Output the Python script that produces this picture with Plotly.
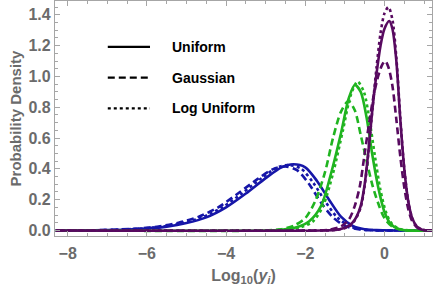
import plotly.graph_objects as go

# ---- data ----
blue_uniform_x = [-8.3, -7.0, -6.5, -6.0, -5.5, -5.0, -4.5, -4.0, -3.5, -3.0, -2.6, -2.3, -2.0, -1.7, -1.4, -1.1, -0.8, -0.5, -0.2, 0.3, 1.2]
blue_uniform_y = [0, 0.002, 0.006, 0.013, 0.025, 0.048, 0.085, 0.15, 0.24, 0.34, 0.41, 0.43, 0.41, 0.32, 0.20, 0.09, 0.03, 0.008, 0.002, 0, 0]
blue_gauss_x = [-8.3, -7.2, -6.7, -6.2, -5.7, -5.2, -4.7, -4.2, -3.7, -3.2, -2.8, -2.5, -2.2, -1.9, -1.6, -1.3, -1.0, -0.7, -0.4, 0.1, 1.2]
blue_gauss_y = [0, 0.002, 0.006, 0.013, 0.026, 0.05, 0.088, 0.15, 0.24, 0.335, 0.40, 0.415, 0.39, 0.30, 0.18, 0.085, 0.03, 0.009, 0.002, 0, 0]
blue_logu_x = [-8.3, -7.1, -6.6, -6.1, -5.6, -5.1, -4.6, -4.1, -3.6, -3.1, -2.7, -2.4, -2.1, -1.8, -1.5, -1.2, -0.9, -0.6, -0.3, 0.2, 1.2]
blue_logu_y = [0, 0.002, 0.006, 0.013, 0.025, 0.048, 0.086, 0.15, 0.24, 0.34, 0.41, 0.425, 0.40, 0.31, 0.19, 0.087, 0.03, 0.008, 0.002, 0, 0]

green_uniform_x = [-8.3, -3.0, -2.6, -2.2, -1.9, -1.6, -1.35, -1.1, -0.9, -0.75, -0.6, -0.45, -0.3, -0.15, 0.0, 0.15, 0.35, 0.6, 1.2]
green_uniform_y = [0, 0, 0.005, 0.022, 0.06, 0.16, 0.37, 0.63, 0.86, 0.945, 0.90, 0.73, 0.48, 0.27, 0.12, 0.045, 0.01, 0, 0]
green_gauss_x = [-8.3, -3.0, -2.6, -2.3, -2.0, -1.75, -1.5, -1.3, -1.1, -0.91, -0.75, -0.6, -0.45, -0.3, -0.15, 0.0, 0.2, 0.5, 1.2]
green_gauss_y = [0, 0, 0.008, 0.03, 0.08, 0.19, 0.38, 0.60, 0.77, 0.84, 0.78, 0.62, 0.45, 0.29, 0.17, 0.08, 0.025, 0.003, 0]
green_logu_x = [-8.3, -3.0, -2.5, -2.1, -1.8, -1.55, -1.3, -1.05, -0.85, -0.68, -0.52, -0.38, -0.24, -0.1, 0.05, 0.2, 0.4, 0.7, 1.2]
green_logu_y = [0, 0, 0.005, 0.022, 0.06, 0.16, 0.37, 0.65, 0.88, 0.966, 0.90, 0.72, 0.48, 0.26, 0.11, 0.04, 0.008, 0, 0]

purple_uniform_x = [-8.3, -1.6, -1.2, -0.9, -0.75, -0.6, -0.5, -0.4, -0.3, -0.2, -0.1, 0.0, 0.12, 0.2, 0.3, 0.4, 0.5, 0.6, 0.7, 0.82, 0.95, 1.2]
purple_uniform_y = [0, 0, 0.005, 0.03, 0.07, 0.16, 0.30, 0.53, 0.80, 1.02, 1.20, 1.31, 1.36, 1.31, 1.10, 0.72, 0.40, 0.19, 0.08, 0.025, 0.005, 0]
purple_gauss_x = [-8.3, -1.8, -1.4, -1.1, -0.9, -0.75, -0.62, -0.5, -0.38, -0.27, -0.15, -0.05, 0.02, 0.1, 0.2, 0.3, 0.4, 0.5, 0.6, 0.7, 0.82, 0.95, 1.2]
purple_gauss_y = [0, 0, 0.005, 0.025, 0.07, 0.16, 0.29, 0.50, 0.71, 0.88, 1.01, 1.08, 1.10, 1.06, 0.94, 0.72, 0.48, 0.28, 0.14, 0.06, 0.02, 0.004, 0]
purple_logu_x = [-8.3, -1.6, -1.2, -0.9, -0.75, -0.6, -0.5, -0.4, -0.3, -0.2, -0.1, 0.0, 0.1, 0.2, 0.3, 0.4, 0.5, 0.6, 0.7, 0.82, 0.95, 1.2]
purple_logu_y = [0, 0, 0.004, 0.025, 0.065, 0.15, 0.29, 0.52, 0.80, 1.06, 1.28, 1.41, 1.45, 1.37, 1.12, 0.73, 0.40, 0.19, 0.08, 0.025, 0.005, 0]

legend_labels = ["Uniform", "Gaussian", "Log Uniform"]

BLUE = "#1616a8"
GREEN = "#20b420"
PURPLE = "#580a60"
DASH = "7px,4px"
DOT = "3px,3px"

series = [
    (blue_uniform_x, blue_uniform_y, BLUE, "solid"),
    (blue_gauss_x, blue_gauss_y, BLUE, DASH),
    (blue_logu_x, blue_logu_y, BLUE, DOT),
    (green_uniform_x, green_uniform_y, GREEN, "solid"),
    (green_gauss_x, green_gauss_y, GREEN, DASH),
    (green_logu_x, green_logu_y, GREEN, DOT),
    (purple_uniform_x, purple_uniform_y, PURPLE, "solid"),
    (purple_gauss_x, purple_gauss_y, PURPLE, DASH),
    (purple_logu_x, purple_logu_y, PURPLE, DOT),
]

fig = go.Figure()
for xs, ys, col, dash in series:
    fig.add_trace(go.Scatter(x=xs, y=ys, mode="lines",
                             line=dict(color=col, width=2.6, dash=dash, shape="spline", smoothing=0.8),
                             showlegend=False, hoverinfo="skip"))

# legend drawn as decoration
leg_dash = ["solid", DASH, DOT]
leg_y = [0.805, 0.674, 0.543]
for lab, d, yy in zip(legend_labels, leg_dash, leg_y):
    fig.add_shape(type="line", xref="paper", yref="paper", x0=0.14, x1=0.252, y0=yy, y1=yy,
                  line=dict(color="black", width=2.4, dash=d))
    fig.add_annotation(xref="paper", yref="paper", x=0.305, y=yy, text=lab, showarrow=False,
                       xanchor="left", yanchor="middle",
                       font=dict(family="Liberation Sans", size=14, color="black", weight="bold"))

axcol = "#a6a6a6"
labcol = "#6b6b6b"
tickfont = dict(family="Liberation Sans", size=16, color=labcol, weight="bold")
fig.update_xaxes(range=[-8.32, 1.2], showgrid=False, zeroline=False,
                 showline=True, linecolor=axcol, linewidth=1.2, mirror="allticks",
                 ticks="inside", ticklen=5, tickcolor=axcol, tickwidth=1,
                 tick0=0, dtick=2, tickfont=tickfont, ticklabelstandoff=3,
                 minor=dict(ticks="inside", ticklen=3, tickcolor=axcol, dtick=0.5, tick0=0),
                 title=dict(text="Log<sub>10</sub>(<i>y<sub>i</sub></i>)", standoff=8,
                            font=dict(family="Liberation Sans", size=16, color=labcol, weight="bold")))
fig.update_yaxes(range=[-0.036, 1.49], showgrid=False, zeroline=False,
                 showline=True, linecolor=axcol, linewidth=1.2, mirror="allticks",
                 ticks="inside", ticklen=5, tickcolor=axcol, tickwidth=1,
                 tick0=0, dtick=0.2, tickformat=".1f", tickfont=tickfont,
                 minor=dict(ticks="inside", ticklen=3, tickcolor=axcol, dtick=0.05, tick0=0),
                 title=dict(text="Probability Density", standoff=3,
                            font=dict(family="Liberation Sans", size=15, color=labcol, weight="bold")))

fig.update_layout(width=436, height=290, margin=dict(l=55, r=4, t=1, b=54, autoexpand=False),
                  plot_bgcolor="white", paper_bgcolor="white")

fig.write_html("out.html", config={"displayModeBar": False},
               post_script="document.body.style.margin='0';document.body.style.padding='0';")
